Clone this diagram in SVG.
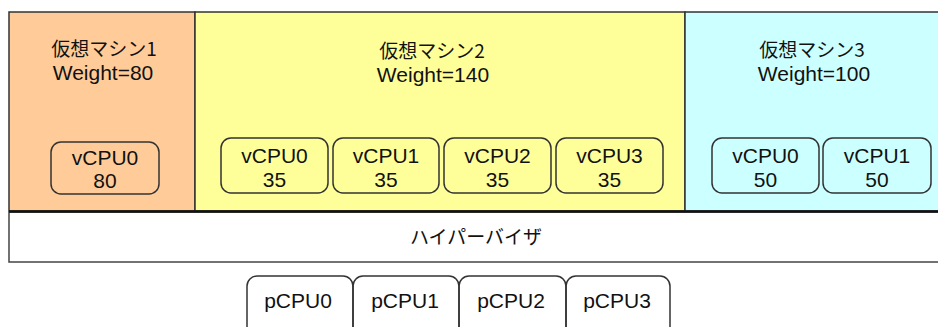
<svg xmlns="http://www.w3.org/2000/svg" width="938" height="327" viewBox="0 0 938 327">
<style>
.vm{stroke:#333;stroke-width:1.5}
.cpu{fill:none;stroke:#333;stroke-width:1.5}
.t{font-family:"Liberation Sans",Arial,sans-serif;font-size:21px;fill:#111;text-anchor:middle}
.j{font-family:"Noto Sans CJK JP","Liberation Sans",sans-serif;font-size:19px;fill:#111;text-anchor:middle}
</style>
<rect width="938" height="327" fill="#fff"/>
<g id="vm1">
<rect class="vm" x="9" y="12" width="186" height="199" fill="#FFCC99"/>
<text class="j" x="104" y="56">仮想マシン1</text>
<text class="t" x="103" y="80">Weight=80</text>
<g id="vm1-vcpu0"><rect class="cpu" x="51" y="142" width="108" height="52" rx="10"/><text class="t" x="105" y="165">vCPU0</text><text class="t" x="105" y="188">80</text></g>
</g>
<g id="vm2">
<rect class="vm" x="195" y="12" width="490" height="199" fill="#FFFF99"/>
<text class="j" x="432" y="58">仮想マシン2</text>
<text class="t" x="433" y="82">Weight=140</text>
<g id="vm2-vcpu0"><rect class="cpu" x="221" y="138" width="107" height="55" rx="10"/><text class="t" x="274.5" y="163">vCPU0</text><text class="t" x="274.5" y="187">35</text></g>
<g id="vm2-vcpu1"><rect class="cpu" x="333" y="138" width="106" height="55" rx="10"/><text class="t" x="386" y="163">vCPU1</text><text class="t" x="386" y="187">35</text></g>
<g id="vm2-vcpu2"><rect class="cpu" x="444" y="138" width="107" height="55" rx="10"/><text class="t" x="497.5" y="163">vCPU2</text><text class="t" x="497.5" y="187">35</text></g>
<g id="vm2-vcpu3"><rect class="cpu" x="556" y="138" width="107" height="55" rx="10"/><text class="t" x="609.5" y="163">vCPU3</text><text class="t" x="609.5" y="187">35</text></g>
</g>
<g id="vm3">
<rect class="vm" x="685" y="12" width="262" height="199" fill="#CCFFFF"/>
<text class="j" x="812" y="57">仮想マシン3</text>
<text class="t" x="814" y="81">Weight=100</text>
<g id="vm3-vcpu0"><rect class="cpu" x="712" y="138" width="107" height="55" rx="10"/><text class="t" x="765.5" y="163">vCPU0</text><text class="t" x="765.5" y="187">50</text></g>
<g id="vm3-vcpu1"><rect class="cpu" x="823" y="138" width="108" height="55" rx="10"/><text class="t" x="877" y="163">vCPU1</text><text class="t" x="877" y="187">50</text></g>
</g>
<g id="hypervisor">
<rect x="9" y="212" width="940" height="50" fill="#fff" stroke="#444" stroke-width="1.5"/>
<line x1="9" y1="211.5" x2="938" y2="211.5" stroke="#111" stroke-width="2.5"/>
<text class="j" x="476" y="244">ハイパーバイザ</text>
</g>
<g id="pcpu0"><rect class="cpu" x="247" y="276" width="106" height="80" rx="10"/><text class="t" x="298" y="308">pCPU0</text></g>
<g id="pcpu1"><rect class="cpu" x="353" y="276" width="106" height="80" rx="10"/><text class="t" x="405" y="308">pCPU1</text></g>
<g id="pcpu2"><rect class="cpu" x="459" y="276" width="107" height="80" rx="10"/><text class="t" x="511" y="308">pCPU2</text></g>
<g id="pcpu3"><rect class="cpu" x="566" y="276" width="104" height="80" rx="10"/><text class="t" x="617" y="308">pCPU3</text></g>
</svg>
